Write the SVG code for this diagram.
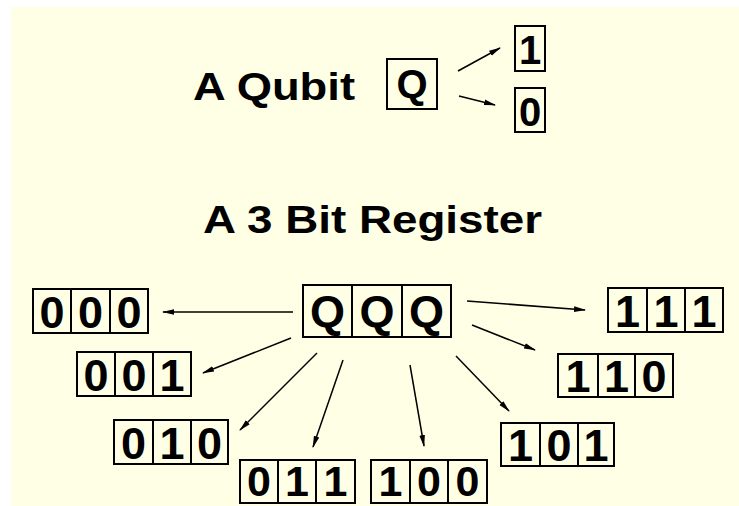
<svg xmlns="http://www.w3.org/2000/svg" width="739" height="506" viewBox="0 0 739 506">
<defs>
<marker id="ah" markerWidth="12" markerHeight="8" refX="11" refY="4" orient="auto" markerUnits="userSpaceOnUse">
<path d="M0,1.2 L12,4 L0,6.8 z" fill="#000"/>
</marker>
<style>
.box{fill:none;stroke:#000;stroke-width:2}
.t{font-family:"Liberation Sans",Arial,sans-serif;font-weight:bold;fill:#000;text-anchor:middle}
.d{font-size:45px}
.b{font-size:43px}
.q{font-size:40px}
.h{font-size:38px;text-anchor:start}
.c line{stroke:#000;stroke-width:1.5;marker-end:url(#ah)}
</style>
</defs>
<rect x="0" y="0" width="739" height="506" fill="#fff"/>
<rect x="11" y="7" width="728" height="499" fill="#FFFFE6"/>

<g id="title-qubit"><text class="t h" x="193" y="100" textLength="162" lengthAdjust="spacingAndGlyphs">A Qubit</text></g>
<g id="title-register"><text class="t h" x="203" y="233" textLength="339" lengthAdjust="spacingAndGlyphs">A 3 Bit Register</text></g>

<g id="qubit"><rect class="box" x="387" y="59" width="50" height="50"/><text class="t q" x="412" y="98">Q</text></g>
<g id="one"><rect class="box" x="515" y="26" width="30" height="45"/><text class="t q" x="530" y="64">1</text></g>
<g id="zero"><rect class="box" x="515" y="88" width="30" height="44"/><text class="t q" x="530" y="126">0</text></g>

<g id="qqq"><rect class="box" x="303" y="285" width="148" height="52"/><line x1="352" y1="285" x2="352" y2="337" stroke="#000" stroke-width="2"/><line x1="402" y1="285" x2="402" y2="337" stroke="#000" stroke-width="2"/>
<text class="t d" x="327.5" y="327">Q</text><text class="t d" x="377" y="327">Q</text><text class="t d" x="426.5" y="327">Q</text></g>

<g id="r000"><rect class="box" x="33" y="289" width="115" height="44"/><line x1="71" y1="289" x2="71" y2="333" stroke="#000" stroke-width="2"/><line x1="110" y1="289" x2="110" y2="333" stroke="#000" stroke-width="2"/>
<text class="t d" x="52" y="328">0</text><text class="t d" x="90.5" y="328">0</text><text class="t d" x="129" y="328">0</text></g>

<g id="r001"><rect class="box" x="77" y="352" width="114" height="44"/><line x1="115" y1="352" x2="115" y2="396" stroke="#000" stroke-width="2"/><line x1="153" y1="352" x2="153" y2="396" stroke="#000" stroke-width="2"/>
<text class="t d" x="96" y="391">0</text><text class="t d" x="134" y="391">0</text><text class="t d" x="172" y="391">1</text></g>

<g id="r010"><rect class="box" x="114" y="420" width="114" height="44"/><line x1="153" y1="420" x2="153" y2="464" stroke="#000" stroke-width="2"/><line x1="191" y1="420" x2="191" y2="464" stroke="#000" stroke-width="2"/>
<text class="t d" x="133.5" y="459">0</text><text class="t d" x="172" y="459">1</text><text class="t d" x="209.5" y="459">0</text></g>

<g id="r011"><rect class="box" x="240" y="460" width="115" height="43"/><line x1="278" y1="460" x2="278" y2="503" stroke="#000" stroke-width="2"/><line x1="316" y1="460" x2="316" y2="503" stroke="#000" stroke-width="2"/>
<text class="t b" x="259" y="496">0</text><text class="t b" x="297" y="496">1</text><text class="t b" x="335.5" y="496">1</text></g>

<g id="r100"><rect class="box" x="371" y="460" width="116" height="43"/><line x1="410" y1="460" x2="410" y2="503" stroke="#000" stroke-width="2"/><line x1="448" y1="460" x2="448" y2="503" stroke="#000" stroke-width="2"/>
<text class="t b" x="390.5" y="496">1</text><text class="t b" x="429" y="496">0</text><text class="t b" x="467.5" y="496">0</text></g>

<g id="r101"><rect class="box" x="501" y="423" width="113" height="43"/><line x1="540" y1="423" x2="540" y2="466" stroke="#000" stroke-width="2"/><line x1="578" y1="423" x2="578" y2="466" stroke="#000" stroke-width="2"/>
<text class="t d" x="520.5" y="461">1</text><text class="t d" x="559" y="461">0</text><text class="t d" x="596" y="461">1</text></g>

<g id="r110"><rect class="box" x="558" y="354" width="115" height="43"/><line x1="598" y1="354" x2="598" y2="397" stroke="#000" stroke-width="2"/><line x1="635" y1="354" x2="635" y2="397" stroke="#000" stroke-width="2"/>
<text class="t d" x="578" y="392">1</text><text class="t d" x="616.5" y="392">1</text><text class="t d" x="654" y="392">0</text></g>

<g id="r111"><rect class="box" x="608" y="288" width="115" height="44"/><line x1="647" y1="288" x2="647" y2="332" stroke="#000" stroke-width="2"/><line x1="685" y1="288" x2="685" y2="332" stroke="#000" stroke-width="2"/>
<text class="t d" x="627.5" y="327">1</text><text class="t d" x="666" y="327">1</text><text class="t d" x="704" y="327">1</text></g>

<g id="connectors" class="c">
<line x1="458" y1="71" x2="500" y2="48"/>
<line x1="459" y1="96" x2="495" y2="105"/>
<line x1="293" y1="312" x2="163" y2="312"/>
<line x1="291" y1="338" x2="203" y2="373"/>
<line x1="317" y1="353" x2="240" y2="430"/>
<line x1="343" y1="360" x2="313" y2="447"/>
<line x1="410" y1="365" x2="424" y2="446"/>
<line x1="456" y1="356" x2="509" y2="411"/>
<line x1="472" y1="325" x2="535" y2="350"/>
<line x1="467" y1="301" x2="585" y2="310"/>
</g>
</svg>
